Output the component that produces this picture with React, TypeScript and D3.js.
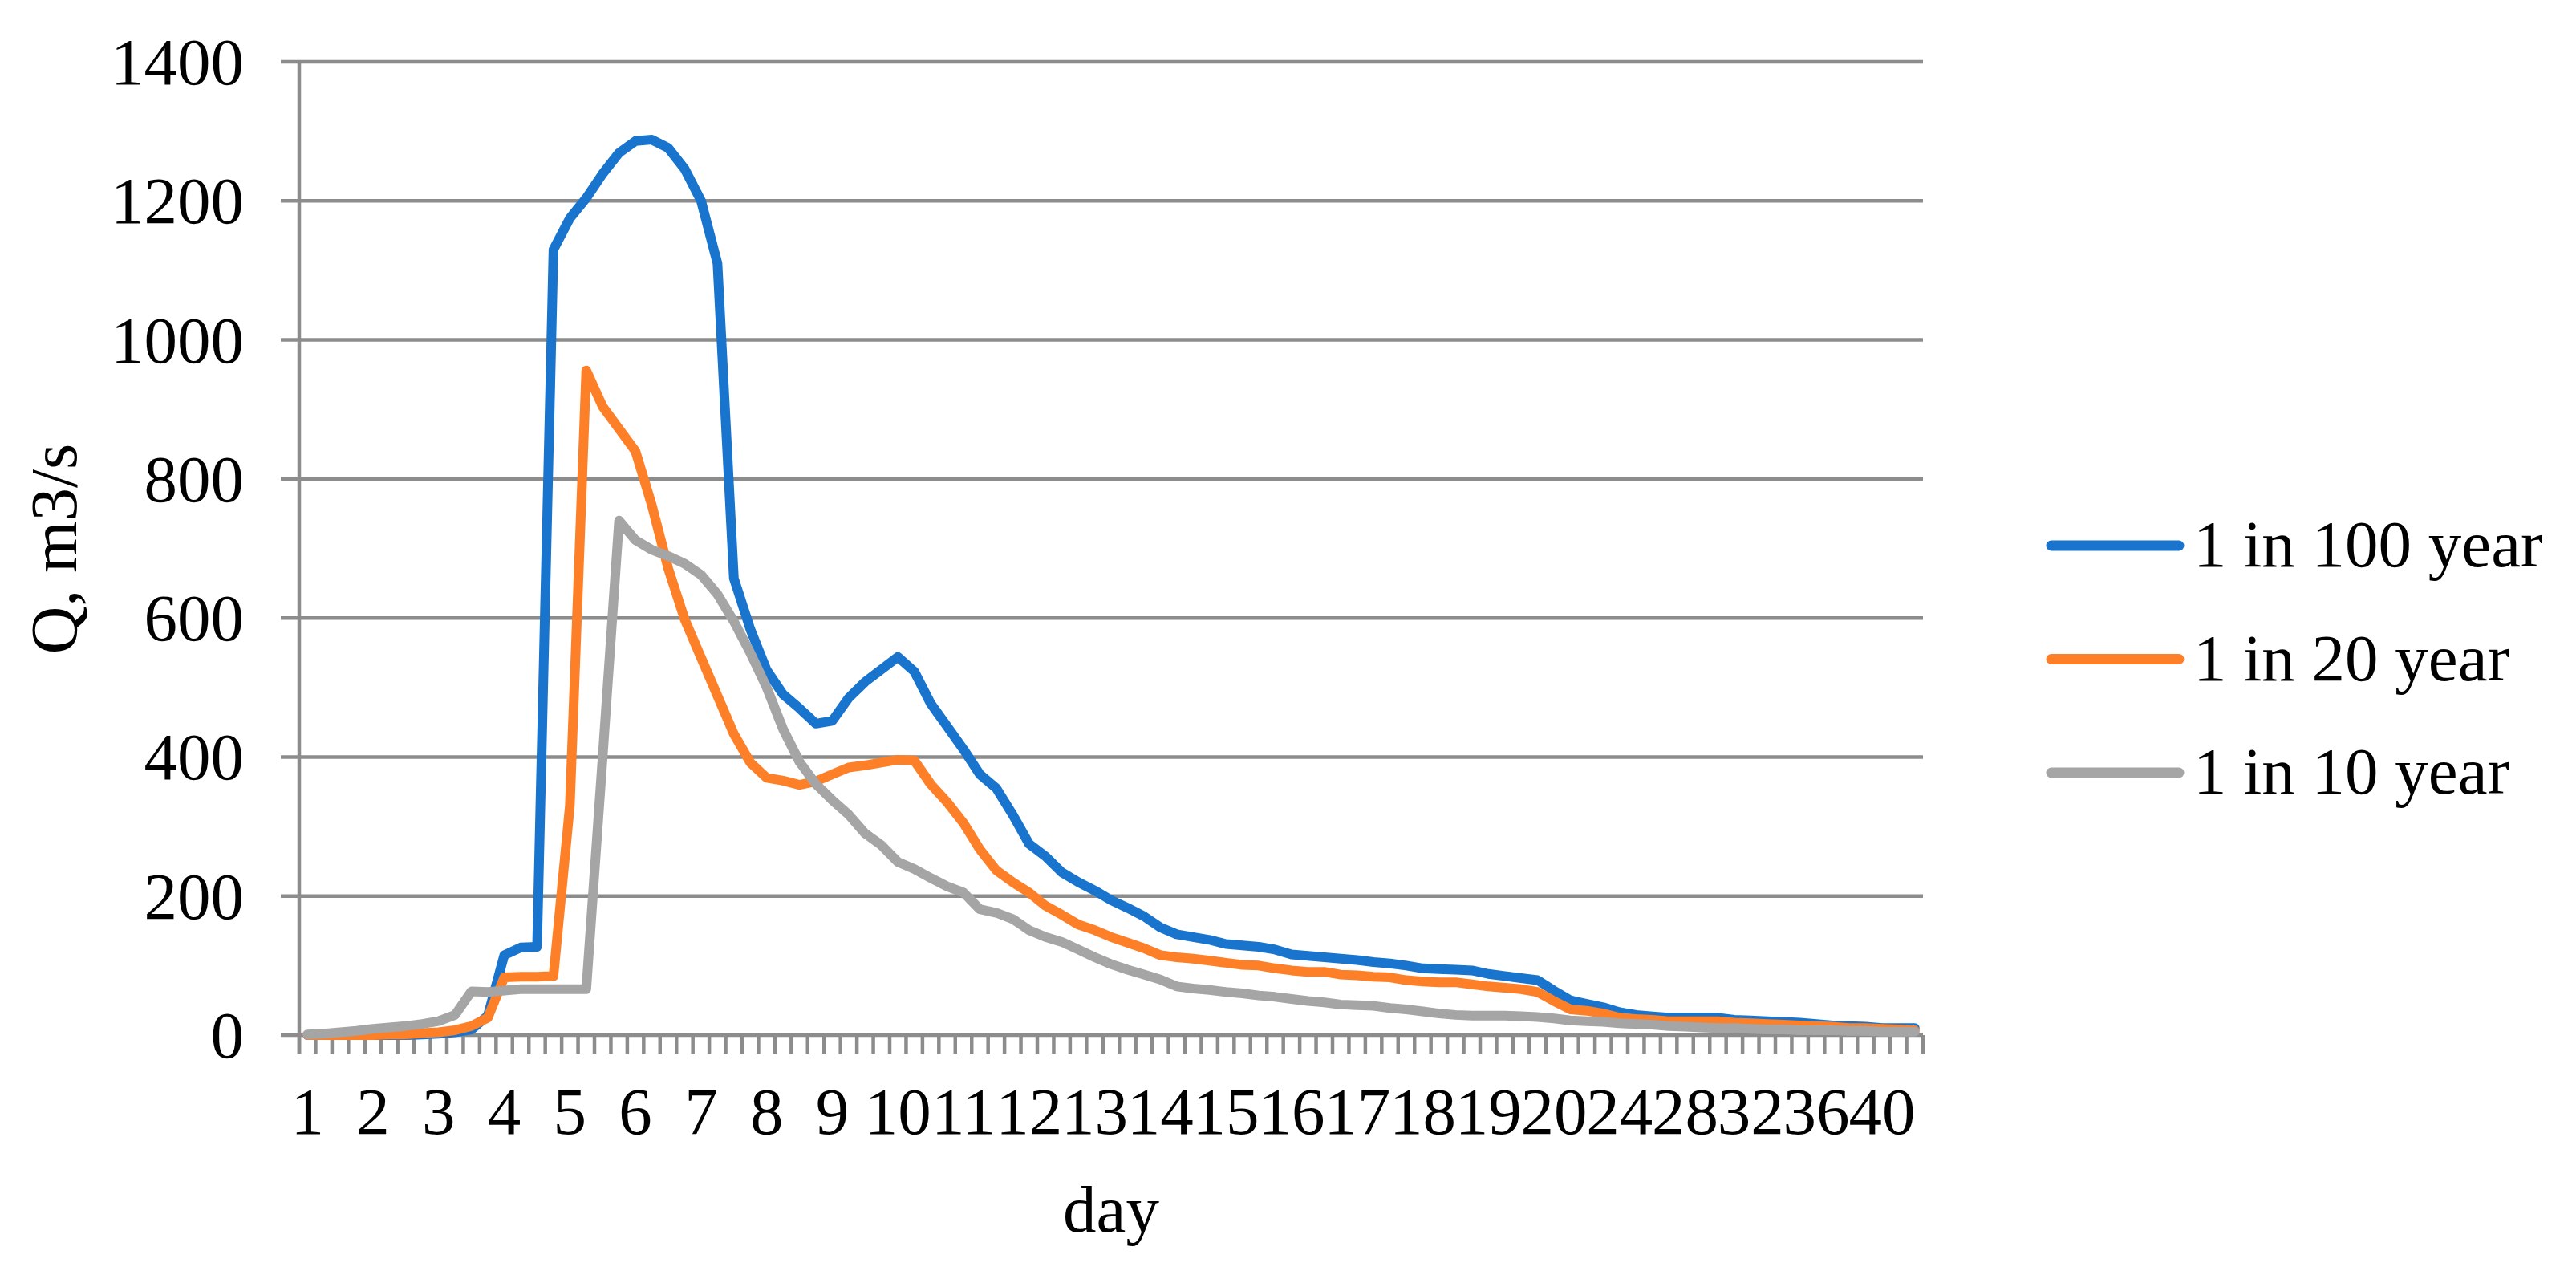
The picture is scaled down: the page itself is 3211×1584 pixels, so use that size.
import React from "react";
import * as d3 from "d3";

const seriesNames = ["1 in 100 year", "1 in 20 year", "1 in 10 year"];
const seriesColors = ["#1874CD", "#FD7F28", "#A5A5A5"];

const tickLabels = ["1","2","3","4","5","6","7","8","9","10","11","12","13","14","15","16","17","18","19","20","24","28","32","36","40"];
const yTicks = [0, 200, 400, 600, 800, 1000, 1200, 1400];

const q100 = [
  0, 0, 0, 0, 0, 0, 0, 1, 2, 4,
  8, 28, 115, 126, 127, 1130, 1175, 1204, 1239, 1269,
  1286, 1288, 1276, 1246, 1200, 1110, 657, 584, 525, 490,
  470, 448, 452, 485, 508, 526, 544, 523, 477, 444,
  411, 375, 355, 317, 275, 257, 234, 220, 208, 194,
  183, 171, 155, 145, 141, 137, 131, 129, 127, 123,
  116, 114, 112, 110, 108, 105, 103, 100, 96, 95,
  94, 93, 88, 85, 82, 79, 64, 50, 45, 40,
  33, 29, 27, 25, 25, 25, 25, 22, 21, 20,
  19, 18, 16, 14, 13, 12, 10, 10, 10,
];

const q20 = [
  0, 0, 0, 0, 0, 1, 1, 3, 4, 7,
  13, 25, 83, 84, 84, 85, 330, 956, 904, 872,
  840, 762, 671, 598, 543, 488, 433, 392, 370, 366,
  360, 365, 375, 385, 388, 392, 396, 395, 361, 335,
  305, 267, 237, 220, 205, 186, 173, 159, 151, 141,
  133, 125, 115, 112, 110, 107, 104, 101, 100, 96,
  93, 91, 91, 87, 86, 84, 83, 79, 77, 76,
  76, 73, 70, 68, 66, 62, 49, 37, 35, 31,
  25, 23, 22, 20, 20, 20, 20, 18, 17, 16,
  15, 14, 13, 12, 10, 10, 9, 8, 7,
];

const q10 = [
  1, 2, 4, 6, 9, 11, 13, 16, 20, 29,
  63, 62, 64, 66, 66, 66, 66, 66, 400, 740,
  712, 698, 689, 678, 662, 634, 595, 550, 500, 440,
  393, 361, 338, 317, 290, 273, 249, 239, 226, 214,
  205, 181, 176, 167, 151, 141, 134, 123, 112, 102,
  94, 87, 80, 70, 67, 65, 62, 60, 57, 55,
  52, 49, 47, 44, 43, 42, 39, 37, 34, 31,
  29, 28, 28, 28, 27, 26, 24, 21, 20, 19,
  17, 16, 15, 13, 12, 11, 10, 10, 9, 8,
  8, 7, 7, 7, 6, 6, 5, 5, 5,
];

const seriesData = [q100, q20, q10];

const W = 3211;
const H = 1584;
const plot = { left: 373, right: 2397, top: 77, bottom: 1290 };
const FONT = "'Liberation Serif', 'Times New Roman', serif";
const FS = 83;
const GRID = "#8C8C8C";

export default function App() {
  const n = q100.length;
  const idx = d3.range(n);
  const x = d3.scaleBand<number>().domain(idx).range([plot.left, plot.right]).paddingInner(0).paddingOuter(0);
  const bw = x.bandwidth();
  const cx = (i: number) => (x(i) as number) + bw / 2;
  const y = d3.scaleLinear().domain([0, 1400]).range([plot.bottom, plot.top]);

  const line = d3
    .line<number>()
    .x((_, i) => cx(i))
    .y((d) => y(d));

  const tickXs = d3.range(n + 1).map((i) => plot.left + i * bw);

  const legendX0 = 2557;
  const legendX1 = 2716;
  const legendTextX = 2734;
  const legendYs = [680, 821.5, 963];

  return (
    <svg
      width={W}
      height={H}
      style={{ position: "absolute", left: 0, top: 0, background: "#fff" }}
      fontFamily={FONT}
    >
      <rect x={0} y={0} width={W} height={H} fill="#fff" />
      {/* horizontal gridlines with outward ticks */}
      {yTicks.map((t) => (
        <line key={"g" + t} x1={plot.left - 23} x2={plot.right} y1={y(t)} y2={y(t)} stroke={GRID} strokeWidth={4.5} />
      ))}
      {/* vertical axis */}
      <line x1={plot.left} x2={plot.left} y1={plot.top} y2={plot.bottom + 23} stroke={GRID} strokeWidth={4.5} />
      {/* category ticks */}
      {tickXs.map((tx, i) => (
        <line key={"t" + i} x1={tx} x2={tx} y1={plot.bottom} y2={plot.bottom + 23} stroke={GRID} strokeWidth={4.5} />
      ))}
      {/* y tick labels */}
      {yTicks.map((t) => (
        <text key={"yl" + t} x={304} y={y(t) + 28} textAnchor="end" fontSize={FS} fill="#000">
          {t}
        </text>
      ))}
      {/* x tick labels */}
      {tickLabels.map((lab, k) => (
        <text key={"xl" + k} x={cx(k * 4)} y={1413} textAnchor="middle" fontSize={FS} fill="#000">
          {lab}
        </text>
      ))}
      {/* axis titles */}
      <text x={(plot.left + plot.right) / 2} y={1535} textAnchor="middle" fontSize={FS} fill="#000">
        day
      </text>
      <text transform={`translate(95,684) rotate(-90)`} textAnchor="middle" fontSize={FS} fill="#000">
        Q, m3/s
      </text>
      {/* series */}
      {seriesData.map((s, k) => (
        <path
          key={"s" + k}
          d={line(s) || ""}
          fill="none"
          stroke={seriesColors[k]}
          strokeWidth={12}
          strokeLinejoin="round"
          strokeLinecap="round"
        />
      ))}
      {/* legend */}
      {seriesNames.map((name, k) => (
        <g key={"lg" + k}>
          <line
            x1={legendX0}
            x2={legendX1}
            y1={legendYs[k]}
            y2={legendYs[k]}
            stroke={seriesColors[k]}
            strokeWidth={13}
            strokeLinecap="round"
          />
          <text x={legendTextX} y={legendYs[k] + 26} fontSize={FS} fill="#000">
            {name}
          </text>
        </g>
      ))}
    </svg>
  );
}
